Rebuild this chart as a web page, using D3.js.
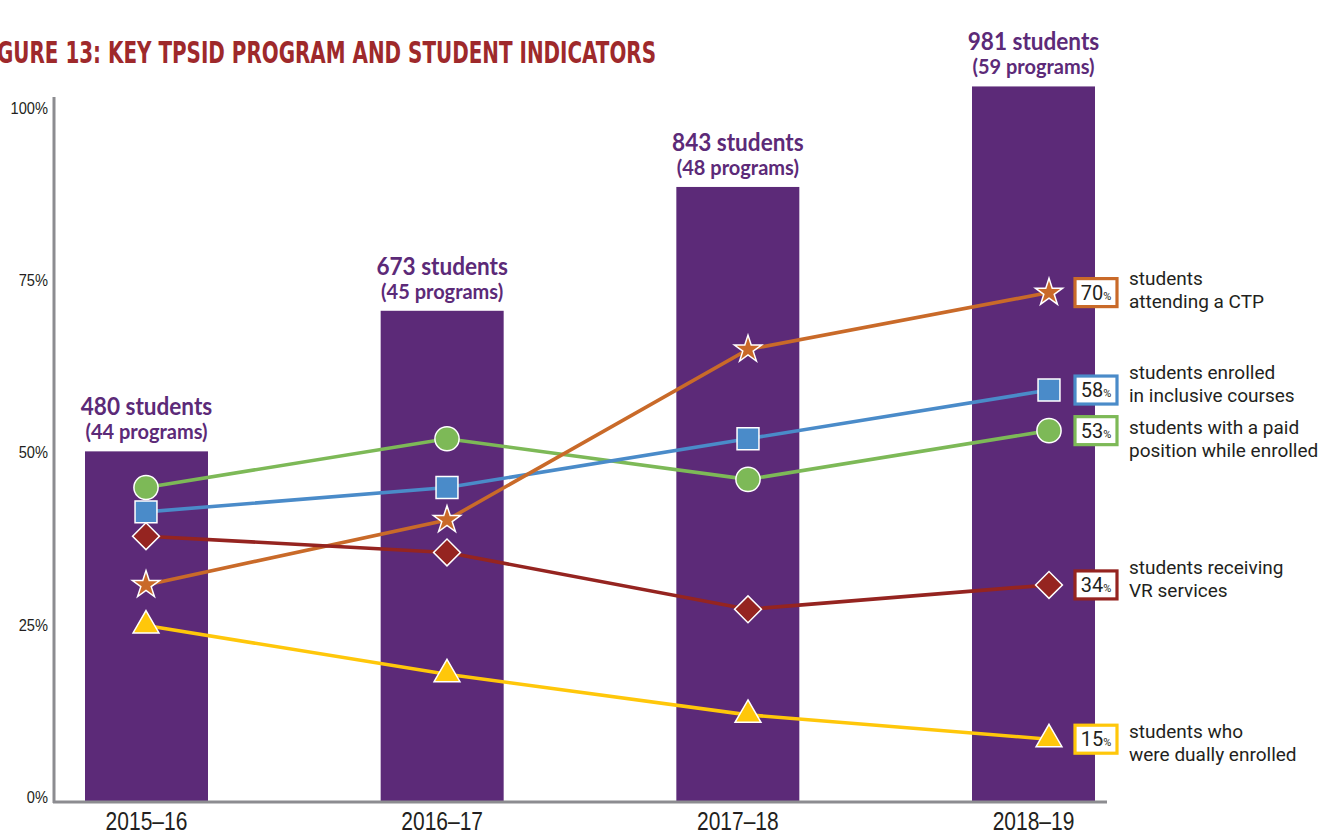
<!DOCTYPE html>
<html>
<head>
<meta charset="utf-8">
<script src="https://cdn.jsdelivr.net/npm/d3@7"></script>
<style>
  body { margin: 0; background: #fff; }
  svg { display: block; }
</style>
</head>
<body>
<svg id="chart"></svg>
<script>
// ---- data ----
const years = ['2015–16', '2016–17', '2017–18', '2018–19'];
const students = [480, 673, 843, 981];
const programs = [44, 45, 48, 59];

const seriesKeys = ['paid', 'inclusive', 'ctp', 'vr', 'dual'];
const seriesNames = [
  ['students with a paid', 'position while enrolled'],
  ['students enrolled', 'in inclusive courses'],
  ['students', 'attending a CTP'],
  ['students receiving', 'VR services'],
  ['students who', 'were dually enrolled']
];
// percent of students
const paidValues = [46, 52, 47, 53];
const inclusiveValues = [43, 46, 52, 58];
const ctpValues = [34, 42, 63, 70];
const vrValues = [40, 38, 31, 34];
const dualValues = [29, 23, 18, 15];

const yTicks = [0, 25, 50, 75, 100];

// squeeze text horizontally (no condensed font installed)
function condense(sel, factor) {
    sel.each(function () {
        const w = this.getComputedTextLength();
        d3.select(this)
            .attr('textLength', w * factor)
            .attr('lengthAdjust', 'spacingAndGlyphs');
    });
}

class IndicatorChart {

    constructor(_config) {
        this.config = {
            parentElement: _config.parentElement,
            containerWidth: 1324,
            containerHeight: 836
        };
        this.initVis();
    }

    initVis() {
        let vis = this;

        vis.colors = {
            bar: '#5c2a78',
            paid: '#7db957',
            inclusive: '#4a8bc9',
            ctp: '#c96a29',
            vr: '#952420',
            dual: '#ffc70a',
            axis: '#8c8c90',
            title: '#9e292b',
            text: '#231f20'
        };
        vis.symbols = {
            paid: {type: d3.symbolCircle, size: 460, rotate: 0},
            inclusive: {type: d3.symbolSquare, size: 480, rotate: 0},
            ctp: {type: d3.symbolStar, size: 230, rotate: 0},
            vr: {type: d3.symbolSquare, size: 360, rotate: 45},
            dual: {type: d3.symbolTriangle, size: 290, rotate: 0}
        };
        // label line offsets (px) relative to the last point
        vis.labelDy = {paid: [3, 26], inclusive: [-11, 12], ctp: [-8, 15], vr: [-11, 12], dual: [-1, 22]};

        vis.svg = d3.select(vis.config.parentElement)
            .attr('width', vis.config.containerWidth)
            .attr('height', vis.config.containerHeight);

        vis.xBar = d3.scaleBand()
            .domain(years)
            .range([85, 1095])
            .paddingInner(0.584)
            .paddingOuter(0);

        vis.xLine = d3.scalePoint()
            .domain(years)
            .range([146, 1049]);

        vis.yStudents = d3.scaleLinear()
            .domain([0, 1000])
            .range([801, 72.6]);

        // percent scale used by the indicator lines
        vis.yPct = d3.scaleLinear()
            .domain([0, 100])
            .range([861, 49]);

        // percent scale used by the printed axis
        vis.yAxisScale = d3.scaleLinear()
            .domain([0, 100])
            .range([797, 108]);

        vis.series = seriesKeys.map((k, i) => ({
            key: k,
            name: seriesNames[i],
            values: [paidValues, inclusiveValues, ctpValues, vrValues, dualValues][i]
        }));

        vis.renderVis();
    }

    renderVis() {
        let vis = this;

        // title (left part runs off the page like in the source)
        vis.svg.append('text')
            .attr('x', -24)
            .attr('y', 63)
            .attr('textLength', 680)
            .attr('lengthAdjust', 'spacingAndGlyphs')
            .attr('font-family', '"Liberation Sans Narrow", "DejaVu Sans Condensed", sans-serif')
            .attr('font-weight', 'bold')
            .attr('font-size', 31)
            .attr('fill', vis.colors.title)
            .text('FIGURE 13: KEY TPSID PROGRAM AND STUDENT INDICATORS');

        // bars
        vis.svg.append('g')
            .selectAll('rect')
            .data(years)
            .join('rect')
            .attr('x', d => vis.xBar(d))
            .attr('y', (d, i) => vis.yStudents(students[i]))
            .attr('width', vis.xBar.bandwidth())
            .attr('height', (d, i) => vis.yStudents(0) - vis.yStudents(students[i]))
            .attr('fill', vis.colors.bar);

        // bar labels
        const barLabels = vis.svg.append('g')
            .attr('font-family', 'Lato, "Noto Sans", sans-serif')
            .attr('font-weight', 'bold')
            .attr('fill', vis.colors.bar)
            .attr('text-anchor', 'middle');

        barLabels.selectAll('text.main')
            .data(years)
            .join('text')
            .attr('class', 'main')
            .attr('x', d => vis.xBar(d) + vis.xBar.bandwidth() / 2)
            .attr('y', (d, i) => vis.yStudents(students[i]) - 36)
            .attr('font-size', 24)
            .text((d, i) => `${students[i]} students`)
            .call(condense, 0.94);

        barLabels.selectAll('text.sub')
            .data(years)
            .join('text')
            .attr('class', 'sub')
            .attr('x', d => vis.xBar(d) + vis.xBar.bandwidth() / 2)
            .attr('y', (d, i) => vis.yStudents(students[i]) - 12)
            .attr('font-size', 20)
            .text((d, i) => `(${programs[i]} programs)`);

        // axis lines
        vis.svg.append('line')
            .attr('x1', 54).attr('x2', 54)
            .attr('y1', 97).attr('y2', 803)
            .attr('stroke', vis.colors.axis)
            .attr('stroke-width', 3);
        vis.svg.append('line')
            .attr('x1', 53).attr('x2', 1107)
            .attr('y1', 802).attr('y2', 802)
            .attr('stroke', vis.colors.axis)
            .attr('stroke-width', 3);

        // y axis labels
        const yAxis = d3.axisLeft(vis.yAxisScale)
            .tickValues(yTicks)
            .tickSize(0)
            .tickPadding(0)
            .tickFormat(d => d + '%');
        const yAxisG = vis.svg.append('g')
            .attr('transform', 'translate(48,0)')
            .call(yAxis);
        yAxisG.select('.domain').remove();
        yAxisG.selectAll('text')
            .attr('font-family', '"Liberation Sans Narrow", sans-serif')
            .attr('font-size', 17)
            .attr('fill', vis.colors.text)
            .call(condense, 0.86);

        // x axis labels
        const xAxis = d3.axisBottom(vis.xBar).tickSize(0).tickPadding(0);
        const xAxisG = vis.svg.append('g')
            .attr('transform', 'translate(0,812)')
            .call(xAxis);
        xAxisG.select('.domain').remove();
        xAxisG.selectAll('text')
            .attr('dy', '0.71em')
            .attr('font-family', '"Liberation Sans Narrow", sans-serif')
            .attr('font-size', 25)
            .attr('fill', vis.colors.text)
            .call(condense, 0.84);

        // lines
        const line = d3.line()
            .x((d, i) => vis.xLine(years[i]))
            .y(d => vis.yPct(d));

        vis.svg.append('g')
            .selectAll('path')
            .data(vis.series)
            .join('path')
            .attr('d', d => line(d.values))
            .attr('fill', 'none')
            .attr('stroke', d => vis.colors[d.key])
            .attr('stroke-width', 3.6);

        // markers
        vis.series.forEach(s => {
            const sym = vis.symbols[s.key];
            vis.svg.append('g')
                .selectAll('path')
                .data(s.values)
                .join('path')
                .attr('transform', (d, i) => `translate(${vis.xLine(years[i])},${vis.yPct(d)}) rotate(${sym.rotate})`)
                .attr('d', d3.symbol().type(sym.type).size(sym.size))
                .attr('fill', vis.colors[s.key])
                .attr('stroke', '#fff')
                .attr('stroke-width', 1.5);
        });

        // end labels
        const last = years.length - 1;
        vis.series.forEach(s => {
            const v = s.values[last];
            const cy = vis.yPct(v);
            const g = vis.svg.append('g');
            g.append('rect')
                .attr('x', 1075)
                .attr('y', cy - 14)
                .attr('width', 42)
                .attr('height', 28)
                .attr('fill', '#fff')
                .attr('stroke', vis.colors[s.key])
                .attr('stroke-width', 3.2);
            const t = g.append('text')
                .attr('x', 1096)
                .attr('y', cy + 7)
                .attr('text-anchor', 'middle')
                .attr('font-family', 'Roboto, sans-serif')
                .attr('fill', vis.colors.text);
            t.append('tspan').attr('font-size', 20).text(v);
            t.append('tspan').attr('font-size', 11).text('%');

            g.selectAll('text.name')
                .data(s.name)
                .join('text')
                .attr('class', 'name')
                .attr('x', 1129)
                .attr('y', (d, i) => cy + vis.labelDy[s.key][i])
                .attr('font-family', 'Roboto, sans-serif')
                .attr('font-size', 19)
                .attr('fill', vis.colors.text)
                .text(d => d);
        });
    }
}

new IndicatorChart({parentElement: '#chart'});
</script>
</body>
</html>
